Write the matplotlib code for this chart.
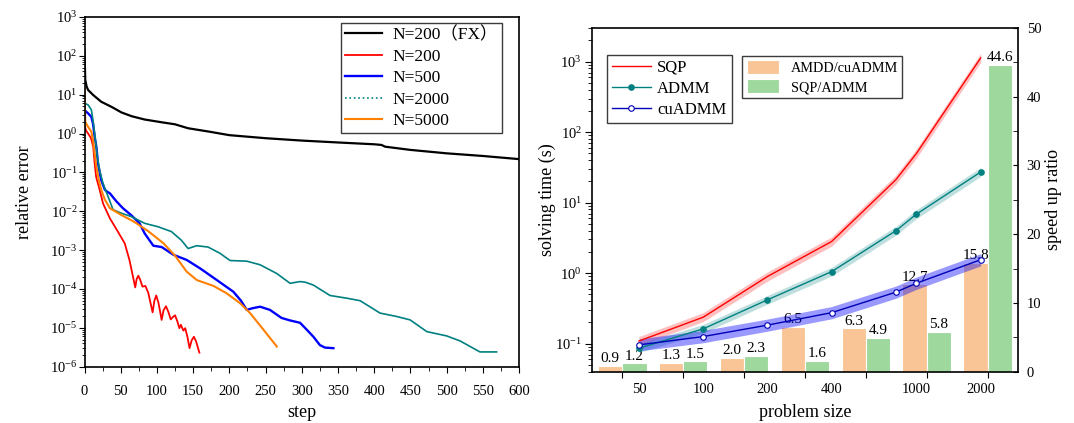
import matplotlib
matplotlib.use("Agg")
import matplotlib.pyplot as plt
from matplotlib.lines import Line2D
from matplotlib.ticker import LogLocator, NullLocator, NullFormatter, MultipleLocator

plt.rcParams['font.family'] = ['Liberation Serif', 'Noto Sans CJK SC']
plt.rcParams['mathtext.fontset'] = 'custom'
plt.rcParams['mathtext.rm'] = 'Liberation Serif'
plt.rcParams['axes.linewidth'] = 1.2

# ---- left panel: convergence curves ----
fx_step = [0, 1, 3, 5, 12, 23, 37, 51, 65, 83, 106, 125, 143, 171, 200, 250, 300,
           350, 400, 410, 415, 450, 500, 550, 600]
fx_err = [139, 24, 16, 13.2, 9.8, 6.6, 4.9, 3.5, 2.8, 2.3, 1.96, 1.73, 1.37, 1.13,
          0.91, 0.76, 0.66, 0.59, 0.53, 0.51, 0.46, 0.38, 0.31, 0.265, 0.22]

n200_step = [0, 2, 5, 9, 12, 14, 16, 21, 25.5, 35, 46, 55.5, 62, 66, 70, 72, 74.3,
             77, 80, 84, 88, 94, 96.5, 99, 102, 106.5, 109, 112.5, 116, 119, 122,
             125, 128, 131, 133, 136.5, 139, 142, 145, 148, 151, 154, 158.6]
n200_err = [1.7, 1.2, 1.0, 0.76, 0.46, 0.17, 0.077, 0.035, 0.016, 0.0066, 0.003,
            0.0015, 5.6e-4, 2.5e-4, 1.1e-4, 1.8e-4, 2.2e-4, 1.7e-4, 1.15e-4, 1.2e-4,
            8e-5, 2.5e-5, 5e-5, 6.8e-5, 4.5e-5, 1.6e-5, 2.8e-5, 3.6e-5, 2.5e-5,
            1.65e-5, 1.9e-5, 2.1e-5, 1.5e-5, 9.8e-6, 1.2e-5, 8.5e-6, 9.8e-6, 6e-6,
            3e-6, 4.8e-6, 5.9e-6, 4.5e-6, 2.3e-6]

n500_step = [0, 2, 5, 9.4, 11.7, 14, 16.3, 18.6, 23, 28, 31, 35, 44, 53, 64.6, 76,
             83, 95, 106.6, 122.7, 141, 159.5, 182.6, 205.5, 216, 224, 232, 242.4,
             256, 272, 283.8, 297.6, 307, 316, 325, 332, 343.6]
n500_err = [4.0, 3.7, 3.3, 2.7, 1.8, 0.83, 0.46, 0.17, 0.064, 0.036, 0.032, 0.029,
            0.018, 0.012, 0.0079, 0.0049, 0.0027, 0.0013, 0.0012, 7.6e-4, 5.6e-4,
            3.4e-4, 1.7e-4, 8.5e-5, 5e-5, 2.9e-5, 3.2e-5, 3.5e-5, 2.9e-5, 1.8e-5,
            1.55e-5, 1.35e-5, 8.9e-6, 5.9e-6, 3.6e-6, 3.1e-6, 3e-6]

n2000_step = [0, 2, 4.8, 9.4, 11.7, 14, 17.7, 21, 25.5, 32.5, 39.4, 51, 64.6, 83,
              101.5, 120, 133.7, 143, 155, 170.6, 187, 201, 212, 224, 242.4, 265.5,
              283.8, 297.6, 304.6, 316, 339, 362, 380.5, 408, 431, 449.6, 472.6,
              500, 518.6, 546, 569]
n2000_err = [6.0, 5.8, 5.5, 4.1, 2.2, 1.0, 0.25, 0.11, 0.052, 0.024, 0.011, 0.0089,
             0.0073, 0.0049, 0.004, 0.003, 0.0018, 0.0011, 0.0013, 0.0012, 8.3e-4,
             5.4e-4, 5.3e-4, 5.2e-4, 4.2e-4, 2.5e-4, 1.4e-4, 1.55e-4, 1.5e-4,
             1.26e-4, 6.8e-5, 5.8e-5, 5e-5, 2.4e-5, 1.96e-5, 1.6e-5, 8e-6, 6.2e-6,
             4.6e-6, 2.4e-6, 2.4e-6]

n5000_step = [0, 1, 4.8, 9.4, 11.7, 14, 16.3, 19.6, 23, 28, 35, 51, 69, 87.7, 109,
              125, 141, 155, 178, 196, 214.8, 228.6, 247, 265.5]
n5000_err = [15, 2.0, 1.5, 1.12, 0.68, 0.31, 0.14, 0.064, 0.036, 0.02, 0.012, 0.008,
             0.0053, 0.0031, 0.0015, 7.2e-4, 2.8e-4, 1.7e-4, 1.2e-4, 7.8e-5, 4.3e-5,
             2.4e-5, 9e-6, 3.3e-6]

# ---- right panel: solving time and speed-up ratio ----
sizes = [50, 100, 200, 400, 800, 1000, 2000]
size_labels = [50, 100, 200, 400, 1000, 2000]
sqp = [0.109, 0.237, 0.895, 2.81, 21.1, 50, 1130]
sqp_lo = [0.094, 0.205, 0.77, 2.42, 18.2, 43, 975]
sqp_hi = [0.126, 0.275, 1.04, 3.26, 24.5, 58, 1310]
admm = [0.086, 0.162, 0.418, 1.05, 3.99, 6.88, 27.2]
admm_lo = [0.075, 0.141, 0.363, 0.91, 3.45, 5.95, 23.5]
admm_hi = [0.099, 0.187, 0.482, 1.21, 4.6, 7.95, 31.5]
cuadmm = [0.096, 0.126, 0.183, 0.275, 0.537, 0.72, 1.55]
cu_lo = [0.079, 0.103, 0.150, 0.225, 0.44, 0.59, 1.27]
cu_hi = [0.117, 0.154, 0.223, 0.336, 0.655, 0.88, 1.89]

ratio_amdd_cu = [0.9, 1.3, 2.0, 6.5, 6.3, 12.7, 15.8]
ratio_sqp_admm = [1.2, 1.5, 2.3, 1.6, 4.9, 5.8, 44.6]

fig = plt.figure(figsize=(10.74, 4.23), dpi=100)

# left
ax1 = fig.add_axes([0.0787, 0.1331, 0.4046, 0.8267])
ax1.plot(fx_step, fx_err, color='black', lw=1.6, label='N=200（FX）')
ax1.plot(n200_step, n200_err, color='#ff0000', lw=1.3, label='N=200')
ax1.plot(n500_step, n500_err, color='#0000ff', lw=1.7, label='N=500')
ax1.plot(n2000_step, n2000_err, color='#008080', lw=1.2, label='N=2000')
ax1.plot(n5000_step, n5000_err, color='#ff8000', lw=1.5, label='N=5000')
ax1.set_yscale('log')
ax1.set_xlim(0, 600)
ax1.set_ylim(1e-6, 1e3)
ax1.xaxis.set_major_locator(MultipleLocator(50))
ax1.xaxis.set_minor_locator(MultipleLocator(25))
ax1.yaxis.set_major_locator(LogLocator(base=10, numticks=20))
ax1.yaxis.set_minor_locator(LogLocator(base=10, subs=range(2, 10), numticks=20))
ax1.yaxis.set_minor_formatter(NullFormatter())
ax1.tick_params(axis='x', which='major', direction='out', length=4.5, pad=9, labelsize=10.5)
ax1.tick_params(axis='x', which='minor', direction='out', length=3)
ax1.tick_params(axis='y', which='major', direction='out', length=4, pad=1, labelsize=10.5)
ax1.tick_params(axis='y', which='minor', direction='out', length=2.5)
ax1.set_xlabel('step', fontsize=13, labelpad=4)
ax1.set_ylabel('relative error', fontsize=13, labelpad=12)

handles, labels = ax1.get_legend_handles_labels()
handles[3] = Line2D([], [], color='#008080', lw=1.2, ls=':')
leg1 = ax1.legend(handles, labels, loc='upper right', fontsize=12.5,
                  bbox_to_anchor=(502 / 1074, 1 - 22.7 / 423), bbox_transform=fig.transFigure,
                  borderaxespad=0, fancybox=False, edgecolor='#3c3c3c', framealpha=1,
                  handlelength=2.1, handletextpad=0.6, labelspacing=0.3, borderpad=0.25)
leg1.get_frame().set_linewidth(1.0)

# right: bars (bottom layer, right axis)
rect = [0.5509, 0.1213, 0.3972, 0.8125]
axb = fig.add_axes(rect)
xpos = list(range(len(ratio_amdd_cu)))
bw = 0.4
axb.bar([x - bw / 2 for x in xpos], ratio_amdd_cu, width=bw, color='#f9c596',
        edgecolor='white', linewidth=0.8, label='AMDD/cuADMM')
axb.bar([x + bw / 2 for x in xpos], ratio_sqp_admm, width=bw, color='#9ed89d',
        edgecolor='white', linewidth=0.8, label='SQP/ADMM')
for x, v in zip(xpos, ratio_amdd_cu):
    axb.annotate(f'{v:.1f}', (x - bw / 2, v), xytext=(0, 0.5), textcoords='offset points',
                 ha='center', va='bottom', fontsize=11)
for x, v in zip(xpos, ratio_sqp_admm):
    axb.annotate(f'{v:.1f}', (x + bw / 2, v), xytext=(0, 0.5), textcoords='offset points',
                 ha='center', va='bottom', fontsize=11)
axb.set_xlim(-0.5, 6.5)
axb.set_ylim(0, 50)
axb.set_xticks(xpos)
axb.set_xticklabels([])
axb.yaxis.tick_right()
axb.yaxis.set_label_position('right')
axb.yaxis.set_major_locator(MultipleLocator(10))
axb.yaxis.set_minor_locator(MultipleLocator(5))
axb.tick_params(axis='x', direction='out', length=4)
axb.tick_params(axis='y', which='both', direction='in', length=3.5, pad=6, labelsize=10.5)
axb.set_ylabel('speed up ratio', fontsize=13, labelpad=3)
leg2 = axb.legend(loc='upper left', fontsize=10.3,
                  bbox_to_anchor=(742.3 / 1074, 1 - 56 / 423), bbox_transform=fig.transFigure,
                  borderaxespad=0, fancybox=False, edgecolor='#3c3c3c', framealpha=1,
                  handlelength=2.3, handleheight=1.1, handletextpad=0.8,
                  labelspacing=0.3, borderpad=0.3)
leg2.get_frame().set_linewidth(1.0)

# right: solving time lines (top layer, left log axis)
axl = fig.add_axes(rect, facecolor='none')
axl.fill_between(sizes, sqp_lo, sqp_hi, color='#ff0000', alpha=0.25, lw=0)
axl.fill_between(sizes, admm_lo, admm_hi, color='#008080', alpha=0.25, lw=0)
axl.fill_between(sizes, cu_lo, cu_hi, color='#0000ff', alpha=0.4, lw=0)
axl.plot(sizes, sqp, color='#ff0000', lw=1.0, label='SQP')
axl.plot(sizes, admm, color='#008080', lw=1.0, marker='o', ms=3.8, label='ADMM')
axl.plot(sizes, cuadmm, color='#0000b4', lw=1.0, marker='o', ms=4,
         markerfacecolor='white', markeredgewidth=0.8, label='cuADMM')
axl.set_xscale('log')
axl.set_yscale('log')
axl.set_xlim(30, 3000)
axl.set_ylim(0.04, 3000)
axl.set_xticks(size_labels)
axl.set_xticklabels([str(s) for s in size_labels])
axl.xaxis.set_minor_locator(NullLocator())
axl.yaxis.set_major_locator(LogLocator(base=10, numticks=20))
axl.yaxis.set_minor_locator(LogLocator(base=10, subs=range(2, 10), numticks=20))
axl.yaxis.set_minor_formatter(NullFormatter())
axl.tick_params(axis='x', which='both', length=0, pad=8, labelsize=10.5)
axl.tick_params(axis='y', which='major', direction='out', length=5, pad=2, labelsize=10.5)
axl.tick_params(axis='y', which='minor', direction='out', length=3)
for s in axl.spines.values():
    s.set_visible(False)
axl.set_xlabel('problem size', fontsize=13, labelpad=6)
axl.set_ylabel('solving time (s)', fontsize=13, labelpad=-1)
leg3 = axl.legend(loc='upper left', fontsize=12,
                  bbox_to_anchor=(607.3 / 1074, 1 - 55 / 423), bbox_transform=fig.transFigure,
                  borderaxespad=0, fancybox=False, edgecolor='#3c3c3c', framealpha=1,
                  handlelength=2.3, handletextpad=0.4, labelspacing=0.3, borderpad=0.3)
leg3.get_frame().set_linewidth(1.0)

plt.savefig('out.png', dpi=100)
